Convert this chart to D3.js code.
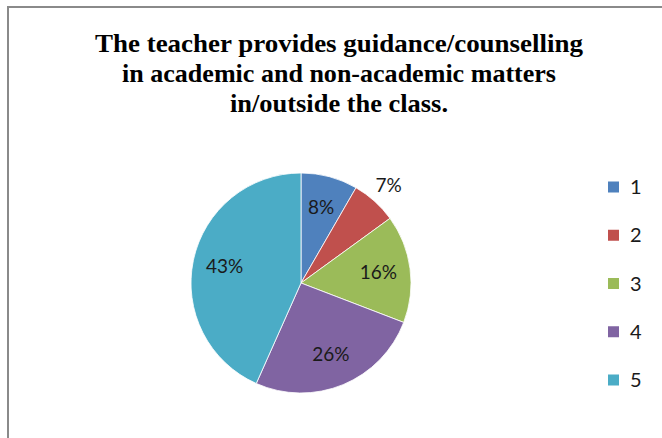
<!DOCTYPE html>
<html>
<head>
<meta charset="utf-8">
<script src="https://cdn.jsdelivr.net/npm/d3@7"></script>
<style>
  body { margin: 0; background: #fff; }
</style>
</head>
<body>
<div id="chart"></div>
<script>
// survey counts per rating (out of 120 responses)
var categories = ["1", "2", "3", "4", "5"];
var counts = [10, 8, 19, 31, 52];
var colors = ["#4F81BD", "#C0504D", "#9BBB59", "#8064A2", "#4BACC6"];
var titleLines = [
  "The teacher provides guidance/counselling",
  "in academic and non-academic matters",
  "in/outside the class."
];
var titleWidths = [488, 434, 218];

var width = 662, height = 438;

var svg = d3.select("#chart")
  .append("svg")
  .attr("width", width)
  .attr("height", height);

// chart border (runs off the right and bottom of the picture)
svg.append("rect")
  .attr("x", 8).attr("y", 7)
  .attr("width", 720).attr("height", 500)
  .style("fill", "none")
  .style("stroke", "#8a8a8a")
  .style("stroke-width", 2);

// title
svg.append("g")
  .selectAll("text")
  .data(titleLines)
  .enter()
  .append("text")
  .attr("x", 339)
  .attr("y", function(d, i) { return 52 + i * 30; })
  .attr("text-anchor", "middle")
  .attr("textLength", function(d, i) { return titleWidths[i]; })
  .attr("lengthAdjust", "spacingAndGlyphs")
  .style("font-family", "'Liberation Serif', serif")
  .style("font-weight", "bold")
  .style("font-size", "26px")
  .style("fill", "#000")
  .text(function(d) { return d; });

// pie
var cx = 301, cy = 283, r = 110;
var total = d3.sum(counts);
var pie = d3.pie().sort(null).value(function(d) { return d; });
var arcs = pie(counts);
var arc = d3.arc().innerRadius(0).outerRadius(r);
var labelArc = d3.arc().innerRadius(r * 0.71).outerRadius(r * 0.71);
var outerLabelArc = d3.arc().innerRadius(r * 1.19).outerRadius(r * 1.19);

var g = svg.append("g").attr("transform", "translate(" + cx + "," + cy + ")");

g.selectAll("path")
  .data(arcs)
  .enter()
  .append("path")
  .attr("d", arc)
  .style("fill", function(d, i) { return colors[i]; })
  .style("stroke", "#fff")
  .style("stroke-width", 0.8);

g.selectAll("text")
  .data(arcs)
  .enter()
  .append("text")
  .attr("transform", function(d, i) {
    // small red slice gets its label outside
    var p = (i == 1 ? outerLabelArc : labelArc).centroid(d);
    return "translate(" + p[0] + "," + p[1] + ")";
  })
  .attr("text-anchor", "middle")
  .attr("dy", "0.32em")
  .style("font-family", "Lato, 'Open Sans', sans-serif")
  .style("font-size", "19px")
  .style("fill", "#1a1a1a")
  .text(function(d) { return Math.round(d.value / total * 100) + "%"; });

// legend
var ly = d3.scalePoint().domain(categories).range([187, 380]);

var legend = svg.append("g")
  .selectAll("g")
  .data(categories)
  .enter()
  .append("g")
  .attr("transform", function(d) { return "translate(608," + ly(d) + ")"; });

legend.append("rect")
  .attr("x", 0).attr("y", -5.5)
  .attr("width", 11).attr("height", 11)
  .style("fill", function(d, i) { return colors[i]; });

legend.append("text")
  .attr("x", 22)
  .attr("dy", "0.36em")
  .style("font-family", "Lato, 'Open Sans', sans-serif")
  .style("font-size", "20px")
  .style("fill", "#1a1a1a")
  .text(function(d) { return d; });
</script>
</body>
</html>
